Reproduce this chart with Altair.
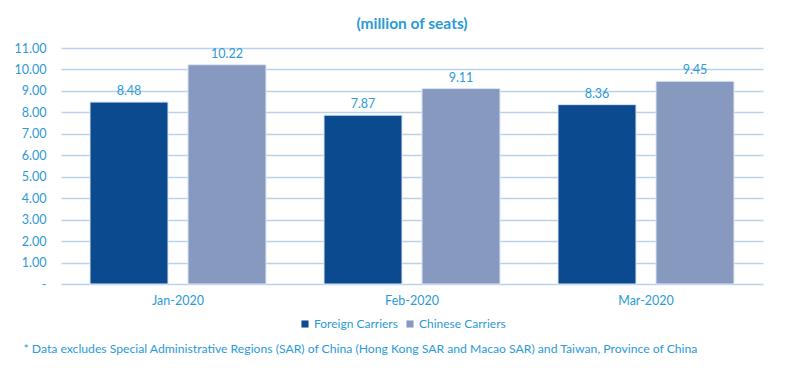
import altair as alt
import pandas as pd

months = ["Jan-2020", "Feb-2020", "Mar-2020"]
foreign = [8.48, 7.87, 8.36]
chinese = [10.22, 9.11, 9.45]
series = ["Foreign Carriers", "Chinese Carriers"]
colors = ["#0b4a8f", "#8899c0"]
y_ticks = [0, 1, 2, 3, 4, 5, 6, 7, 8, 9, 10, 11]

rows = []
for i, m in enumerate(months):
    rows.append({"month": m, "series": series[0], "value": foreign[i]})
    rows.append({"month": m, "series": series[1], "value": chinese[i]})
df = pd.DataFrame(rows)

BLUE = "#2b9ad8"
FONT = "Lato"
note = "* Data excludes Special Administrative Regions (SAR) of China (Hong Kong SAR and Macao SAR) and Taiwan, Province of China"

x = alt.X("month:N", sort=months,
          scale=alt.Scale(paddingInner=0, paddingOuter=0),
          axis=alt.Axis(title=note, labelAngle=0, domain=False, ticks=False,
                        labelPadding=10, labelFontSize=12.5, labelColor=BLUE,
                        labelFont=FONT, titleFont=FONT, titleFontSize=12.2,
                        titleColor=BLUE, titleFontWeight="normal",
                        titleAnchor="start", titleAlign="left", titleX=-38, titleY=58,
                        titleBaseline="top"))
xo = alt.XOffset("series:N", sort=series,
                 scale=alt.Scale(paddingInner=0.204, paddingOuter=0.296))
y = alt.Y("value:Q", scale=alt.Scale(domain=[0, 11], nice=False),
          axis=alt.Axis(title=None, values=y_ticks, domain=False, ticks=False,
                        labelOverlap=False, labelPadding=15, labelFontSize=12.5,
                        labelColor=BLUE, labelFont=FONT, gridColor="#b9d1ea",
                        gridWidth=1.5,
                        labelExpr="datum.value == 0 ? '-' : format(datum.value, '.2f')"))

bars = alt.Chart(df).mark_bar(stroke="#dde6f2", strokeWidth=1).encode(
    x=x, xOffset=xo, y=y,
    color=alt.Color("series:N", sort=series,
                    scale=alt.Scale(domain=series, range=colors),
                    legend=alt.Legend(title=None, orient="none", direction="horizontal",
                                      legendX=238, legendY=270, symbolType="square",
                                      symbolSize=50, symbolStrokeWidth=0,
                                      labelFont=FONT, labelFontSize=12,
                                      labelColor=BLUE, columnPadding=6,
                                      labelOffset=3)),
)

labels = alt.Chart(df).mark_text(dy=-4, baseline="bottom", color=BLUE,
                                 font=FONT, fontSize=12.5).encode(
    x=x, xOffset=xo, y=y, text=alt.Text("value:Q", format=".2f"),
)

chart = alt.layer(bars, labels).properties(
    width=702, height=236,
    autosize=alt.AutoSizeParams(type="none"),
    padding={"left": 53, "top": 40, "right": 20, "bottom": 80},
    title=alt.TitleParams("(million of seats)", font=FONT, fontSize=15.5,
                          fontWeight="bold", color=BLUE, offset=10, anchor="middle"),
).configure_view(stroke=None)

chart.save("out.html", embed_options={"renderer": "svg", "actions": False})
